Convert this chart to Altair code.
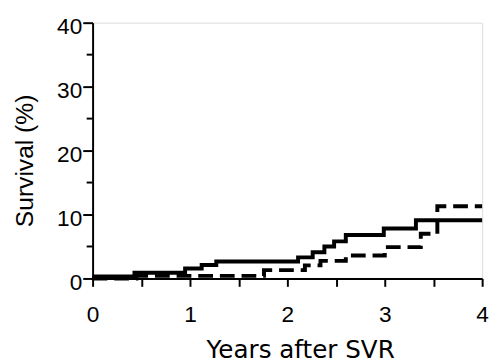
import altair as alt
import pandas as pd

# Solid curve (step-after): years, percent
solid_x = [0, 0.43, 0.95, 1.12, 1.27, 2.11, 2.26, 2.38, 2.48, 2.60, 2.99, 3.32, 4.0]
solid_y = [0.3, 0.9, 1.55, 2.1, 2.65, 3.3, 4.1, 5.0, 5.8, 6.8, 7.8, 9.1, 9.1]

# Dashed curve (step-after)
dash_x = [0, 0.45, 1.76, 2.18, 2.34, 2.60, 3.00, 3.37, 3.54, 4.0]
dash_y = [0, 0.4, 1.3, 2.05, 2.75, 3.6, 4.9, 7.0, 11.3, 11.3]

x_ticks = [0, 0.5, 1, 1.5, 2, 2.5, 3, 3.5, 4]
y_ticks = [0, 10, 20, 30, 40]
y_minor = [5, 15, 25, 35]

solid = pd.DataFrame({"t": solid_x, "v": solid_y})
dashed = pd.DataFrame({"t": dash_x, "v": dash_y})
minor = pd.DataFrame({"v": y_minor})

FONT = "Liberation Sans"

xscale = alt.Scale(domain=[0, 4], nice=False, zero=False)
yscale = alt.Scale(domain=[0, 40], nice=False)

xaxis = alt.Axis(
    values=x_ticks,
    labelExpr="datum.value % 1 == 0 ? format(datum.value, 'd') : ''",
    title="Years after SVR",
    titleFont="DejaVu Sans", titleFontSize=25, titleFontWeight="normal",
    titleX=211, titleY=80, titleAlign="center", titleBaseline="alphabetic",
    labelFont=FONT, labelFontSize=23, labelPadding=18,
    tickSize=8, tickWidth=2, domainWidth=2, domainColor="black",
    tickColor="black", labelColor="black", titleColor="black",
    grid=False, labelFlush=False,
)
yaxis = alt.Axis(
    values=y_ticks,
    format="d",
    title="Survival (%)",
    titleFont=FONT, titleFontSize=25, titleFontWeight="normal",
    titleX=-61, titleY=140, titleAlign="center", titleBaseline="alphabetic", titleAngle=-90,
    labelFont=FONT, labelFontSize=23, labelPadding=1, labelOffset=4,
    tickSize=10, tickWidth=2, domainWidth=2, domainColor="black",
    tickColor="black", labelColor="black", titleColor="black",
    grid=False, labelFlush=False,
)

line_solid = alt.Chart(solid).mark_line(
    interpolate="step-after", color="black", strokeWidth=4, strokeCap="butt"
).encode(x=alt.X("t:Q", scale=xscale, axis=xaxis), y=alt.Y("v:Q", scale=yscale, axis=yaxis))

line_dash = alt.Chart(dashed).mark_line(
    interpolate="step-after", color="black", strokeWidth=4, strokeDash=[15, 7], strokeCap="butt"
).encode(x=alt.X("t:Q", scale=xscale), y=alt.Y("v:Q", scale=yscale))

minor_ticks = alt.Chart(minor).mark_rule(color="black", strokeWidth=2).encode(
    y=alt.Y("v:Q", scale=yscale), x=alt.value(-6), x2=alt.value(0)
)

chart = alt.layer(minor_ticks, line_dash, line_solid).properties(
    width=396, height=260,
    autosize=alt.AutoSizeParams(type="none"),
    padding={"left": 86, "top": 12, "right": 9, "bottom": 83},
).configure_view(stroke="black", strokeWidth=2).configure(background="white")

chart.save("out.html", embed_options={"renderer": "svg", "actions": False})
